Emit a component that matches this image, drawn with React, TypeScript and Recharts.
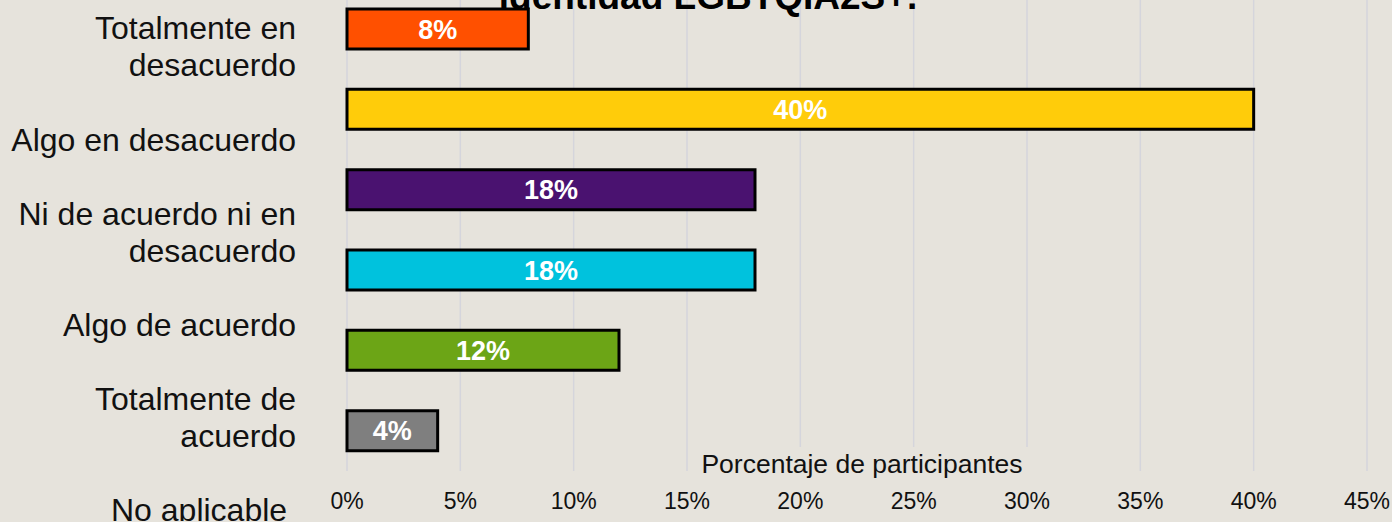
import React from "react";
import { BarChart, Bar, XAxis, YAxis, CartesianGrid, Cell, LabelList } from "recharts";

const categories = [
  "Totalmente en\ndesacuerdo",
  "Algo en desacuerdo",
  "Ni de acuerdo ni en\ndesacuerdo",
  "Algo de acuerdo",
  "Totalmente de\nacuerdo",
  "No aplicable ",
];
const percentages = [8, 40, 18, 18, 12, 4];
const barColors = ["#ff5000", "#ffcc0a", "#4a1270", "#00c2dd", "#6ca516", "#7f7f7f"];
const xTicks = [0, 5, 10, 15, 20, 25, 30, 35, 40, 45];
const titleText = "identidad LGBTQIA2S+.";
const axisTitle = "Porcentaje de participantes";

const data = categories.map((name, i) => ({ name, value: percentages[i] }));

const FONT = "'Liberation Sans', Arial, Helvetica, sans-serif";
const BG = "#e6e3dc";
const CHART_TOP = -40; // the source picture is cropped at the top
const PLOT_TOP = 29;
// category labels in the source sit on a slightly stretched grid vs. the bars
const LABEL_TOP = 40.7;
const LABEL_STRETCH = 1.152;
const LINE_H = 37;

function CategoryTick(props: any) {
  const { x, y, payload } = props;
  const lines = String(payload.value).split("\n");
  const cy = LABEL_TOP + (y - PLOT_TOP) * LABEL_STRETCH;
  const first = cy - ((lines.length - 1) * LINE_H) / 2 + 11;
  return (
    <text
      x={x}
      y={first}
      textAnchor="end"
      fontSize={32}
      fontFamily={FONT}
      fill="#111"
      style={{ whiteSpace: "pre" }}
    >
      {lines.map((l, i) => (
        <tspan key={i} x={x} y={first + i * LINE_H}>
          {l}
        </tspan>
      ))}
    </text>
  );
}

function AxisTitle(props: any) {
  const vb = props.viewBox || {};
  const cx = vb.x + vb.width / 2 + 5;
  const cy = vb.y - 7;
  return (
    <g>
      <rect x={cx - 164} y={cy - 17} width={330} height={30} fill={BG} />
      <text
        x={cx}
        y={cy}
        textAnchor="middle"
        dominantBaseline="central"
        fontSize={26.5}
        fontFamily={FONT}
        fill="#111"
      >
        {axisTitle}
      </text>
    </g>
  );
}

export default function App() {
  return (
    <div
      style={{
        position: "relative",
        width: 1392,
        height: 522,
        overflow: "hidden",
        background: BG,
        fontFamily: FONT,
      }}
    >
      <style>{"body{margin:0}"}</style>
      <div style={{ position: "absolute", left: 0, top: CHART_TOP }}>
        <BarChart
          width={1392}
          height={561}
          data={data}
          layout="vertical"
          margin={{ top: PLOT_TOP, right: 25, bottom: 0, left: 0 }}
        >
          <CartesianGrid horizontal={false} stroke="#d5d5dc" strokeWidth={1.5} />
          <XAxis
            type="number"
            domain={[0, 45]}
            ticks={xTicks}
            interval={0}
            tickFormatter={(v) => `${v}%`}
            tickLine={false}
            axisLine={false}
            tickSize={0}
            tickMargin={22}
            height={50}
            tick={{ fill: "#111", fontSize: 23, fontFamily: FONT }}
            label={<AxisTitle />}
          />
          <YAxis
            type="category"
            dataKey="name"
            width={347}
            interval={0}
            tickLine={false}
            axisLine={false}
            tickSize={0}
            tickMargin={51}
            tick={<CategoryTick />}
          />
          <Bar
            dataKey="value"
            barSize={40}
            stroke="#000"
            strokeWidth={3}
            isAnimationActive={false}
          >
            {data.map((d, i) => (
              <Cell key={d.name} fill={barColors[i]} />
            ))}
            <LabelList
              dataKey="value"
              position="center"
              formatter={(v: any) => `${v}%`}
              fill="#fff"
              fontSize={27}
              fontWeight="bold"
              fontFamily={FONT}
            />
          </Bar>
        </BarChart>
      </div>
      <svg
        width={1392}
        height={40}
        style={{ position: "absolute", left: 0, top: 0, pointerEvents: "none" }}
      >
        <text
          x={708}
          y={8.5}
          textAnchor="middle"
          fontSize={37}
          fontWeight="bold"
          fontFamily={FONT}
          fill="#000"
        >
          {titleText}
        </text>
      </svg>
    </div>
  );
}
